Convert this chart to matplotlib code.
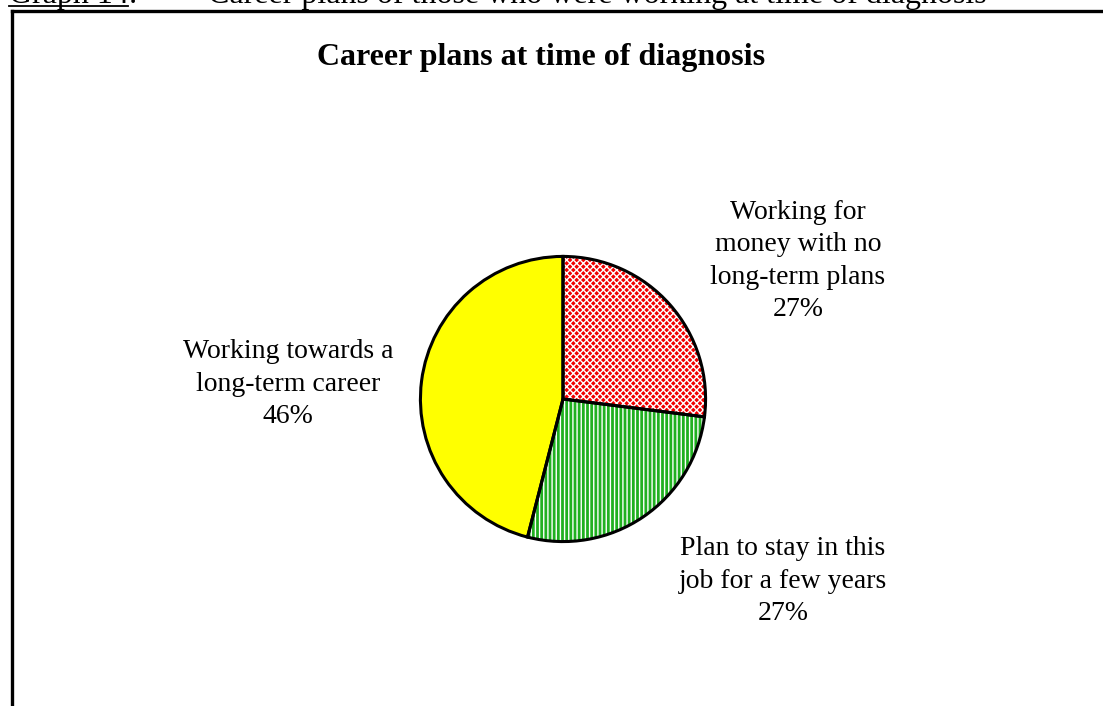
import matplotlib.pyplot as plt

plt.rcParams['font.family'] = ['Liberation Serif', 'DejaVu Serif']
plt.rcParams['hatch.linewidth'] = 1.0

# pie data, clockwise from 12 o'clock
labels = ["Working for\nmoney with no\nlong-term plans",
          "Plan to stay in this\njob for a few years",
          "Working towards a\nlong-term career"]
shares = [27, 27, 46]
fills = ["#f00000", "#20b020", "#ffff00"]
hatches = ["xxxxx", "||||", ""]

W, H = 1103, 706
fig = plt.figure(figsize=(W / 100, H / 100), dpi=100)

# page caption, cut off at the top of the page
fig.text(9 / W, 1 - 3 / H, "Graph 14:", fontsize=23, va="baseline", ha="left")
fig.add_artist(plt.Line2D([9 / W, 128 / W], [1 - 6 / H, 1 - 6 / H], color="black", lw=1.3))
fig.text(208 / W, 1 - 3 / H, "Career plans of those who were working at time of diagnosis",
         fontsize=23, va="baseline", ha="left")

# chart frame (left and top edges only visible)
fig.add_artist(plt.Line2D([12 / W, 1], [1 - 11 / H, 1 - 11 / H], color="black", lw=2.4))
fig.add_artist(plt.Line2D([12 / W, 12 / W], [0, 1 - 11 / H], color="black", lw=2.4))

fig.text(541 / W, 1 - 57 / H, "Career plans at time of diagnosis",
         fontsize=23, fontweight="bold", ha="center", va="center")

cx, cy, r = 563, 399, 144
ax = fig.add_axes([(cx - r) / W, (H - cy - r) / H, 2 * r / W, 2 * r / H])

# fills, then white hatching, then black outlines
ax.pie(shares, colors=fills, startangle=90, counterclock=False,
       wedgeprops=dict(linewidth=0))
hw, _ = ax.pie(shares, startangle=90, counterclock=False,
               wedgeprops=dict(facecolor="none", edgecolor="white", linewidth=0))
for w, h in zip(hw, hatches):
    w.set_hatch(h)
ax.pie(shares, startangle=90, counterclock=False,
       wedgeprops=dict(facecolor="none", edgecolor="black", linewidth=2.2))
ax.set_xlim(-1.01, 1.01)
ax.set_ylim(-1.01, 1.01)
ax.set_axis_off()

# labels with percentages, placed in pixel positions
label_pos = [(798, 261), (783, 581), (288, 384)]
for lab, val, (x, y) in zip(labels, shares, label_pos):
    fig.text(x / W, 1 - y / H, f"{lab}\n{val}%", fontsize=20, ha="center", va="center",
             linespacing=1.4)

fig.savefig("out.png", dpi=100)
